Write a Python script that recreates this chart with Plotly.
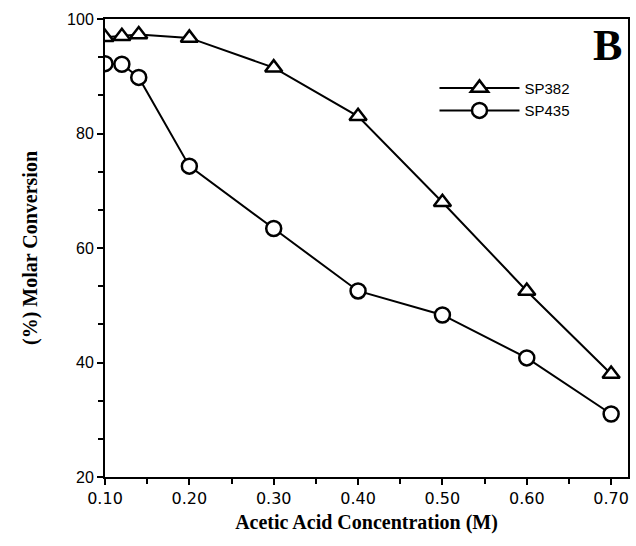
import plotly.graph_objects as go

conc = [0.10, 0.12, 0.14, 0.20, 0.30, 0.40, 0.50, 0.60, 0.70]
sp382 = [96.8, 97.0, 97.3, 96.7, 91.5, 83.0, 68.0, 52.5, 38.0]
sp435 = [92.2, 92.1, 89.8, 74.3, 63.4, 52.5, 48.3, 40.8, 31.0]
xticks = [0.10, 0.20, 0.30, 0.40, 0.50, 0.60, 0.70]
yticks = [20, 40, 60, 80, 100]

fig = go.Figure()
fig.add_trace(go.Scatter(
    x=conc, y=sp382, name="SP382", mode="lines+markers",
    line=dict(color="black", width=2),
    marker=dict(symbol="triangle-up", size=15, color="white",
                line=dict(color="black", width=2.5)),
))
fig.add_trace(go.Scatter(
    x=conc, y=sp435, name="SP435", mode="lines+markers",
    line=dict(color="black", width=2),
    marker=dict(symbol="circle", size=15, color="white",
                line=dict(color="black", width=2.5)),
))

axis_common = dict(
    showline=True, linecolor="black", linewidth=2, mirror=True,
    ticks="outside", ticklen=6, tickwidth=2, tickcolor="black",
    showgrid=False, zeroline=False,
)

fig.update_xaxes(
    range=[0.10, 0.72], tickvals=xticks,
    ticktext=[f"{v:.2f}" for v in xticks],
    tickfont=dict(family="DejaVu Sans", size=16, color="black"),
    minor=dict(dtick=0.05, tick0=0.10, ticks="outside", ticklen=5,
               tickwidth=2, tickcolor="black"),
    title=dict(text="<b>Acetic Acid Concentration (M)</b>",
               font=dict(family="Liberation Serif, Times New Roman", size=20, color="black"),
               standoff=8),
    **axis_common,
)
fig.update_yaxes(
    range=[20, 100], tickvals=yticks,
    tickfont=dict(family="Liberation Sans, Arial", size=16, color="black"),
    minor=dict(dtick=20/3, tick0=20, ticks="outside", ticklen=5,
               tickwidth=2, tickcolor="black"),
    title=dict(text="<b>(%) Molar Conversion</b>",
               font=dict(family="Liberation Serif, Times New Roman", size=20, color="black"),
               standoff=24),
    **axis_common,
)

fig.add_annotation(
    text="<b>B</b>", x=0.992, y=1.0, xref="paper", yref="paper",
    xanchor="right", yanchor="top", showarrow=False,
    font=dict(family="Liberation Serif, Times New Roman", size=44, color="black"),
)

fig.update_layout(
    width=636, height=546,
    margin=dict(l=105, r=6, t=19, b=69),
    paper_bgcolor="white", plot_bgcolor="white",
    legend=dict(x=0.63, y=0.885, xanchor="left", yanchor="top",
                bgcolor="rgba(0,0,0,0)", tracegroupgap=0, itemwidth=80,
                font=dict(family="Liberation Sans, Arial", size=15, color="black")),
)

fig.write_html("out.html")
